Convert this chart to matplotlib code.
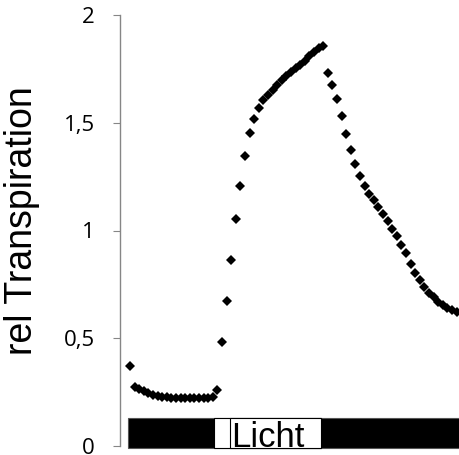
import numpy as np
import matplotlib.pyplot as plt
from matplotlib.patches import Rectangle

# relative Transpiration, gleichmaessige Messintervalle
rel_transp = np.array([
    0.371,
    0.275, 0.265, 0.255, 0.247, 0.238, 0.232, 0.228, 0.226, 0.224, 0.223,
    0.222, 0.222, 0.222, 0.221, 0.222, 0.222, 0.224, 0.227, 0.262,
    0.483, 0.673, 0.863, 1.053, 1.206, 1.346, 1.452, 1.517, 1.568,
    1.607, 1.630, 1.653, 1.676, 1.697, 1.716, 1.734, 1.752, 1.769, 1.788,
    1.808, 1.827, 1.845, 1.855,
    1.730, 1.675, 1.610, 1.530, 1.450, 1.375, 1.310, 1.255, 1.205, 1.170,
    1.140, 1.110, 1.075, 1.045, 1.005, 0.975, 0.935, 0.895, 0.845, 0.805,
    0.770, 0.740, 0.712, 0.690, 0.668, 0.652, 0.640, 0.630, 0.620,
])
zeit = np.arange(len(rel_transp))

# Dunkel/Licht-Phasen (in Messintervallen)
dunkel_start = -0.5
licht_start = 18.3
licht_ende = 41.5
yticks = [0, 0.5, 1, 1.5, 2]
ytick_labels = ['0', '0,5', '1', '1,5', '2']

fig = plt.figure(figsize=(4.6, 4.55), dpi=100)
ax = fig.add_axes([120/460, 9/455, 340/460, 431/455])

ax.plot(zeit, rel_transp, linestyle='none', marker='D', ms=5.5,
        color='black', markeredgewidth=0)

ax.set_xlim(-2.17, 71.74)
ax.set_ylim(0, 2)
ax.set_yticks(yticks)
ax.set_yticklabels(ytick_labels, fontsize=16, family='Open Sans')
ax.tick_params(axis='y', length=5, color='#868686', pad=13)
ax.set_xticks([])
for s in ['top', 'right', 'bottom']:
    ax.spines[s].set_visible(False)
ax.spines['left'].set_color('#868686')
ax.spines['left'].set_linewidth(1)

# Balken
ax.add_patch(Rectangle((dunkel_start, -0.009), 80, 0.139, facecolor='black',
                       edgecolor='#555555', lw=0.8, clip_on=False, zorder=3))
ax.add_patch(Rectangle((licht_start, -0.009), licht_ende - licht_start, 0.139,
                       facecolor='white', edgecolor='black', lw=0.8,
                       clip_on=False, zorder=4))
ax.add_patch(Rectangle((21.8, -0.009), licht_ende - 21.8, 0.139,
                       facecolor='white', edgecolor='black', lw=0.8,
                       clip_on=False, zorder=5))
ax.text(22.0, -0.003, 'Licht', fontsize=25, family='Liberation Sans',
        ha='left', va='baseline', zorder=6, clip_on=False)

ax.set_ylabel('rel Transpiration', fontsize=27, family='Liberation Sans')
ax.yaxis.set_label_coords(-0.235, 0.524)

plt.savefig('out.png', dpi=100)
